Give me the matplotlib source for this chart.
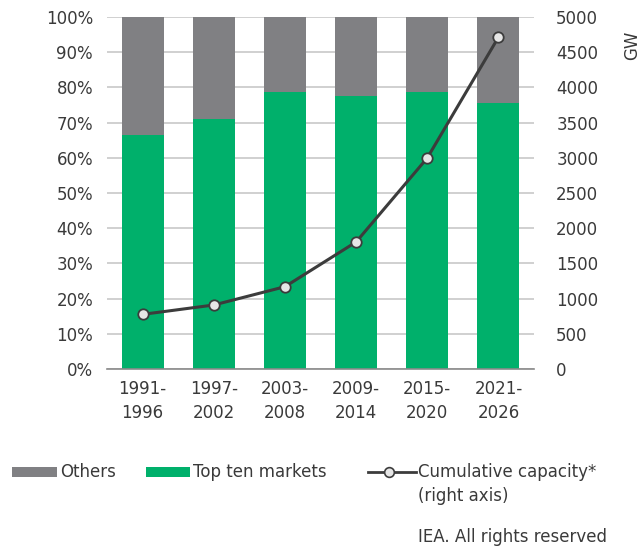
import matplotlib
matplotlib.use("Agg")
import matplotlib.pyplot as plt
from matplotlib.lines import Line2D
from matplotlib.patches import Rectangle

plt.rcParams['font.family'] = ['DejaVu Sans']

periods = ["1991-\n1996", "1997-\n2002", "2003-\n2008", "2009-\n2014", "2015-\n2020", "2021-\n2026"]
top_ten_share = [66.5, 71.0, 78.8, 77.6, 78.8, 75.6]
others_share = [100 - v for v in top_ten_share]
cumulative_gw = [776, 909, 1169, 1804, 2997, 4712]

green = "#00b06b"
grey = "#808083"
line_col = "#3c3c3c"
text_col = "#3a3a3a"
fs = 12

W, H = 642, 546
fig = plt.figure(figsize=(W / 100, H / 100), dpi=100)
ax = fig.add_axes([107 / W, 1 - 369 / H, (534 - 107) / W, (369 - 17) / H])

x = list(range(len(periods)))
ax.bar(x, top_ten_share, width=0.59, color=green, zorder=2)
ax.bar(x, others_share, width=0.59, bottom=top_ten_share, color=grey, zorder=2)

ax.set_xlim(-0.5, len(periods) - 0.5)
ax.set_ylim(0, 100)
ax.set_yticks(range(0, 101, 10))
ax.set_yticklabels([f"{v}%" for v in range(0, 101, 10)])
ax.set_xticks(x)
ax.set_xticklabels(periods, linespacing=1.45)
ax.grid(axis='y', color="#c8c8c8", linewidth=1.2, zorder=0)
for s in ["top", "left", "right"]:
    ax.spines[s].set_visible(False)
ax.spines["bottom"].set_color("#8a8a8a")
ax.spines["bottom"].set_linewidth(1.2)
ax.tick_params(axis='both', length=0, labelsize=fs, colors=text_col)
ax.tick_params(axis='x', pad=8)
ax.tick_params(axis='y', pad=10)

ax2 = ax.twinx()
ax2.plot(x, cumulative_gw, color=line_col, linewidth=2.2, marker='o',
         markersize=7.5, markerfacecolor="#e6e6e6", markeredgecolor=line_col,
         markeredgewidth=1.3, zorder=3)
ax2.set_ylim(0, 5000)
ax2.set_yticks(range(0, 5001, 500))
for s in ["top", "left", "right", "bottom"]:
    ax2.spines[s].set_visible(False)
ax2.tick_params(axis='y', length=0, labelsize=fs, colors=text_col, pad=16)
fig.text(632 / W, 1 - 45 / H, "GW", rotation=90, ha='center', va='center',
         fontsize=fs, color=text_col)

# legend row, laid out in pixel positions
def px(xp, yp):
    return xp / W, 1 - yp / H

def swatch(x0, x1, color):
    fig.patches.append(Rectangle(px(x0, 477), (x1 - x0) / W, 10 / H,
                                 transform=fig.transFigure, facecolor=color,
                                 edgecolor='none'))

swatch(12, 57, grey)
fig.text(*px(60, 472), "Others", ha='left', va='center', fontsize=fs, color=text_col)
swatch(146, 190, green)
fig.text(*px(193, 472), "Top ten markets", ha='left', va='center', fontsize=fs, color=text_col)
fig.lines.append(Line2D([368 / W, 416 / W], [1 - 472 / H, 1 - 472 / H],
                        transform=fig.transFigure, color=line_col, linewidth=2))
fig.lines.append(Line2D([389 / W], [1 - 472 / H], transform=fig.transFigure,
                        linestyle='none', marker='o', markersize=7,
                        markerfacecolor="#e6e6e6", markeredgecolor=line_col,
                        markeredgewidth=1.2))
fig.text(*px(418, 472), "Cumulative capacity*", ha='left', va='center', fontsize=fs, color=text_col)
fig.text(*px(418, 496), "(right axis)", ha='left', va='center', fontsize=fs, color=text_col)

fig.text(*px(418, 537), "IEA. All rights reserved", ha='left', va='center',
         fontsize=fs, color=text_col)

fig.savefig("out.png", dpi=100)
